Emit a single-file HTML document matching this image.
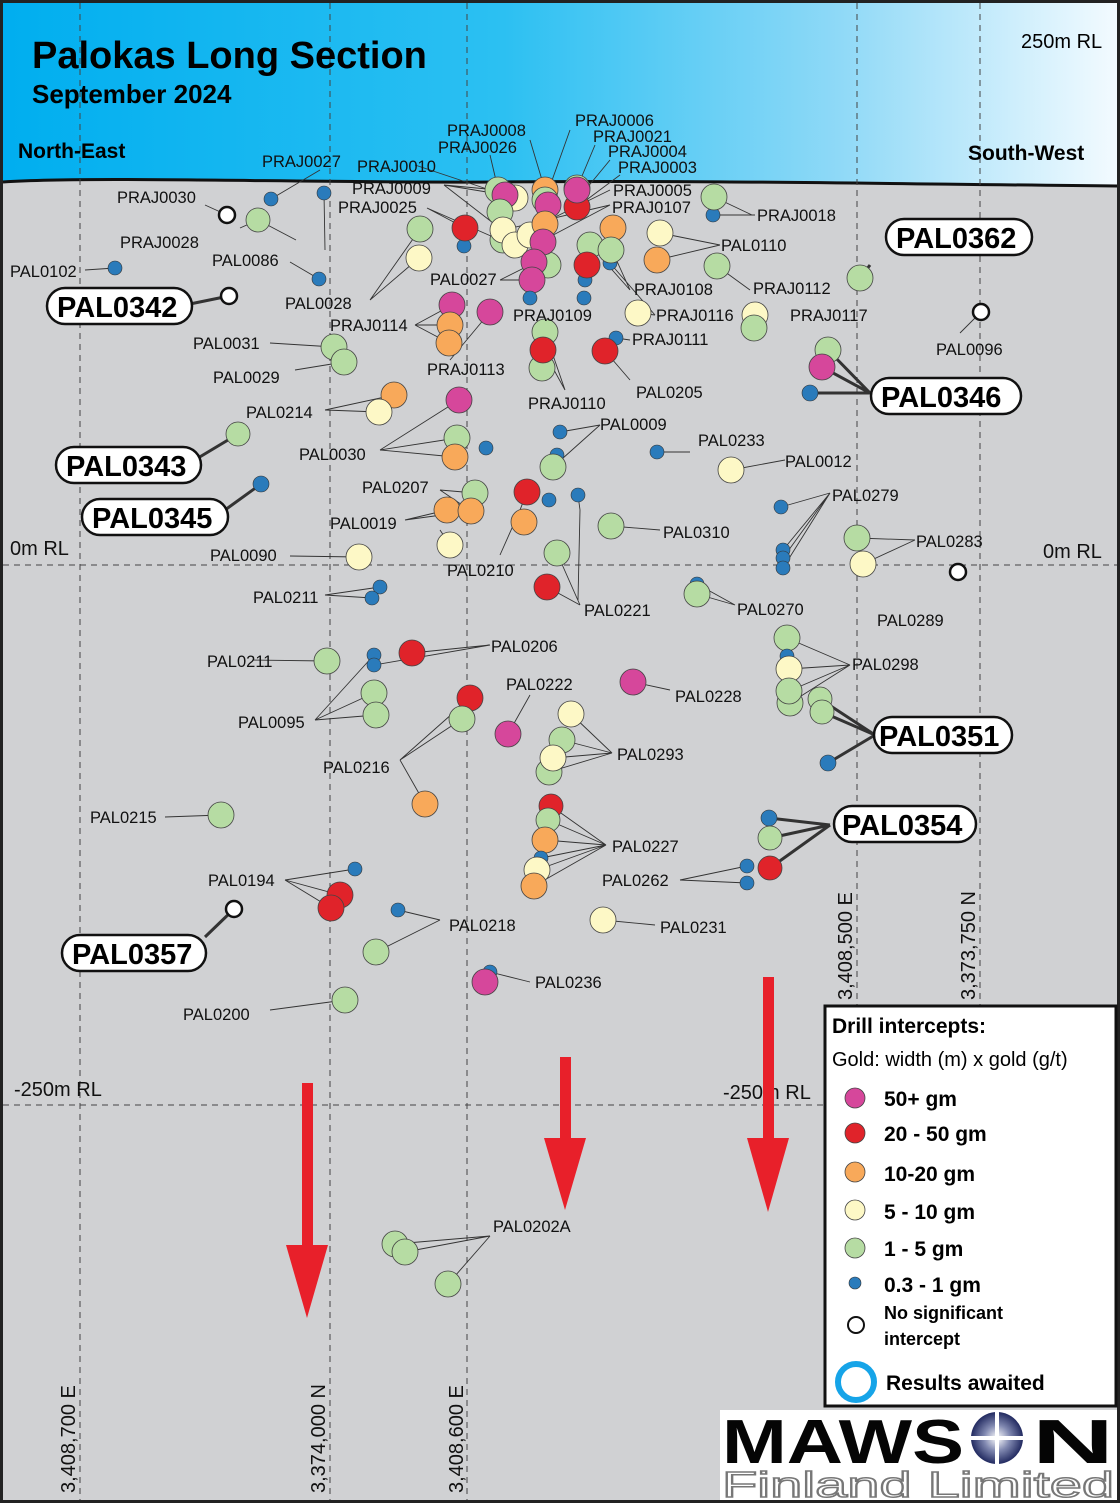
<!DOCTYPE html>
<html><head><meta charset="utf-8">
<style>
html,body{margin:0;padding:0;background:#fff}
svg{display:block}
text{font-family:"Liberation Sans",sans-serif}
.l{font-size:16.5px;fill:#111}
.ln{stroke:#333;stroke-width:0.9;fill:none}
.m{fill:#d6479b;stroke:#444;stroke-width:0.8}
.r{fill:#e0232a;stroke:#444;stroke-width:0.8}
.o{fill:#f8a95a;stroke:#444;stroke-width:0.8}
.y{fill:#fdf8c6;stroke:#444;stroke-width:0.8}
.g{fill:#b6dca3;stroke:#444;stroke-width:0.8}
.b{fill:#2a7bbb;stroke:#333;stroke-width:0.6}
.w{fill:#fff;stroke:#111;stroke-width:2.5}
.co rect{fill:#fff;stroke:#111;stroke-width:2.5}
.co text{font-size:29px;font-weight:bold}
.dash{stroke:#444;stroke-width:1;stroke-dasharray:6,5}
.ax{font-size:20px;fill:#111}
</style></head><body>
<svg width="1120" height="1503" viewBox="0 0 1120 1503" xmlns="http://www.w3.org/2000/svg">
<defs>
<linearGradient id="hg" x1="0" x2="1" y1="0" y2="0">
<stop offset="0" stop-color="#00aeef"/><stop offset="0.45" stop-color="#2cc0f2"/><stop offset="0.75" stop-color="#8fd9f7"/><stop offset="1" stop-color="#f4fbff"/></linearGradient>
<radialGradient id="lg" cx="0.5" cy="0.5" r="0.5"><stop offset="0" stop-color="#fff"/><stop offset="0.5" stop-color="#8088b0"/><stop offset="1" stop-color="#222a60"/></radialGradient>
</defs>
<rect width="1120" height="1503" fill="#d0d1d3"/>
<path d="M0 0H1120V186 C900 184 700 180 500 182 C300 183 100 176 0 182Z" fill="url(#hg)"/>
<path d="M3 182 C100 176 300 183 500 182 C700 180 900 184 1117 186" stroke="#111" stroke-width="3" fill="none"/>
<rect x="1.5" y="1.5" width="1117" height="1500" fill="none" stroke="#222" stroke-width="3"/>
<g class="dash">
<line x1="80" y1="3" x2="80" y2="1500"/><line x1="330" y1="3" x2="330" y2="1500"/>
<line x1="467" y1="3" x2="467" y2="1500"/><line x1="857" y1="3" x2="857" y2="1005"/>
<line x1="980" y1="3" x2="980" y2="1005"/>
<line x1="3" y1="565" x2="1117" y2="565"/><line x1="3" y1="1105" x2="825" y2="1105"/>
</g>
<text x="32" y="68" font-size="38" font-weight="bold">Palokas Long Section</text>
<text x="32" y="103" font-size="26" font-weight="bold">September 2024</text>
<text x="18" y="158" font-size="21" font-weight="bold">North-East</text>
<text x="968" y="160" font-size="21" font-weight="bold">South-West</text>
<text x="1021" y="48" font-size="20">250m RL</text>
<text x="10" y="555" class="ax">0m RL</text>
<text x="1043" y="558" class="ax">0m RL</text>
<text x="14" y="1096" class="ax">-250m RL</text>
<text x="723" y="1099" class="ax">-250m RL</text>
<g class="ax">
<text transform="translate(75,1493) rotate(-90)">3,408,700 E</text>
<text transform="translate(325,1493) rotate(-90)">3,374,000 N</text>
<text transform="translate(463,1493) rotate(-90)">3,408,600 E</text>
<text transform="translate(852,1000) rotate(-90)">3,408,500 E</text>
<text transform="translate(975,1000) rotate(-90)">3,373,750 N</text>
</g>
<g class="ln">
<path d="M205 205L227 215M240 228L258 220M296 240L258 220M85 270L115 268M290 262L319 279M320 170L271 199M325 250L324 193"/>
<path d="M444 185L505 195M444 185L515 240M444 185L498 190M427 208L465 228M427 208L500 240M370 300L420 229M370 300L419 258"/>
<path d="M415 165L505 195M490 155L510 240M530 140L545 190M570 130L545 200M595 145L577 188M610 160L577 200M620 175L577 207"/>
<path d="M610 190L545 222M610 205L540 242M610 205L503 230M500 280L534 263M500 280L532 280"/>
<path d="M755 215L713 215M752 215L714 197M720 245L660 233M720 245L657 260M750 290L717 266M630 290L611 248M630 290L590 245M655 315L638 313M655 315L610 263"/>
<path d="M415 325L452 305M415 325L450 325M415 325L449 343M450 360L490 312M565 390L543 350M565 390L545 332M630 340L616 338M630 380L605 351"/>
<path d="M270 343L334 347M295 370L344 362M325 410L394 395M325 410L379 412M380 450L459 400M380 450L457 438M380 450L455 457M600 425L560 432M600 425L553 467"/>
<path d="M690 452L657 452M785 460L731 470M830 493L781 507M830 493L783 550M830 493L783 558M830 493L783 568M915 540L857 538M915 540L863 564"/>
<path d="M440 490L475 493M440 490L471 511M405 520L447 510M405 520L471 511M440 530L450 545M580 510L578 495M580 510L578 600M520 510L527 492M520 510L500 555M660 530L611 526"/>
<path d="M290 556L359 557M325 595L380 587M325 595L372 598M580 605L557 553M580 605L547 587M735 605L697 584M735 605L697 594"/>
<path d="M253 660L327 661M490 645L412 653M490 645L374 665M315 720L374 655M315 720L374 693M315 720L376 715M400 760L470 698M400 760L462 719M400 760L425 804M530 695L508 734M670 690L633 682"/>
<path d="M850 665L787 638M850 665L789 669M850 665L789 691M850 665L790 703M612 753L571 714M612 753L562 740M612 753L553 758M612 753L549 772"/>
<path d="M165 817L221 815M285 880L355 869M285 880L340 895M285 880L331 908M440 920L398 910M440 920L376 952M606 845L551 806M606 845L548 820M606 845L545 840M606 845L541 858M606 845L537 870M606 845L534 886M655 925L603 920M530 982L490 972M270 1010L345 1000"/>
<path d="M680 880L747 866M680 880L747 883M490 1236L395 1244M490 1236L405 1252M490 1236L448 1284"/>
<path d="M960 333L981 312"/>
</g>
<g stroke="#333" stroke-width="3" fill="none">
<path d="M185 305L229 296M870 265L860 278M198 458L238 434M225 510L261 484M870 393L828 350M870 393L822 367M870 393L810 393M875 735L820 699M875 735L822 712M875 735L828 763M830 825L769 818M830 825L770 838M830 825L770 868M205 937L234 909"/>
</g>
<g>
<circle class="w" cx="227" cy="215" r="8"/><circle class="g" cx="258" cy="220" r="12"/><circle class="b" cx="271" cy="199" r="7"/><circle class="b" cx="324" cy="193" r="7"/>
<circle class="b" cx="115" cy="268" r="7"/><circle class="w" cx="229" cy="296" r="8"/><circle class="b" cx="319" cy="279" r="7"/>
<circle class="g" cx="420" cy="229" r="13"/><circle class="y" cx="419" cy="258" r="13"/><circle class="b" cx="464" cy="246" r="7"/><circle class="r" cx="465" cy="228" r="13"/>
<circle class="g" cx="498" cy="190" r="13"/><circle class="y" cx="515" cy="198" r="13"/><circle class="m" cx="505" cy="195" r="13"/>
<circle class="g" cx="500" cy="212" r="13"/><circle class="g" cx="503" cy="240" r="13"/><circle class="y" cx="503" cy="230" r="13"/><circle class="y" cx="515" cy="245" r="13"/><circle class="y" cx="530" cy="235" r="13"/>
<circle class="o" cx="545" cy="190" r="13"/><circle class="g" cx="545" cy="200" r="13"/><circle class="m" cx="548" cy="205" r="13"/><circle class="o" cx="545" cy="224" r="13"/>
<circle class="g" cx="577" cy="188" r="13"/><circle class="r" cx="577" cy="207" r="13"/><circle class="m" cx="577" cy="190" r="13"/>
<circle class="g" cx="548" cy="265" r="13"/><circle class="m" cx="543" cy="242" r="13"/><circle class="m" cx="534" cy="262" r="13"/><circle class="m" cx="532" cy="280" r="13"/><circle class="b" cx="530" cy="298" r="7"/>
<circle class="g" cx="590" cy="245" r="13"/><circle class="o" cx="613" cy="228" r="13"/><circle class="b" cx="610" cy="263" r="7"/><circle class="g" cx="611" cy="250" r="13"/><circle class="b" cx="585" cy="280" r="7"/><circle class="r" cx="587" cy="265" r="13"/><circle class="b" cx="584" cy="298" r="7"/>
<circle class="y" cx="638" cy="313" r="13"/><circle class="y" cx="660" cy="233" r="13"/><circle class="o" cx="657" cy="260" r="13"/><circle class="g" cx="717" cy="266" r="13"/><circle class="b" cx="713" cy="215" r="7"/><circle class="g" cx="714" cy="197" r="13"/>
<circle class="y" cx="755" cy="315" r="13"/><circle class="g" cx="754" cy="328" r="13"/>
<circle class="m" cx="452" cy="305" r="13"/><circle class="o" cx="450" cy="325" r="13"/><circle class="o" cx="449" cy="343" r="13"/><circle class="m" cx="490" cy="312" r="13"/>
<circle class="g" cx="545" cy="332" r="13"/><circle class="g" cx="542" cy="368" r="13"/><circle class="r" cx="543" cy="350" r="13"/><circle class="b" cx="616" cy="338" r="7"/><circle class="r" cx="605" cy="351" r="13"/>
<circle class="g" cx="334" cy="347" r="13"/><circle class="g" cx="344" cy="362" r="13"/>
<circle class="o" cx="394" cy="395" r="13"/><circle class="y" cx="379" cy="412" r="13"/>
<circle class="m" cx="459" cy="400" r="13"/><circle class="g" cx="457" cy="438" r="13"/><circle class="o" cx="455" cy="457" r="13"/><circle class="b" cx="486" cy="448" r="7"/>
<circle class="b" cx="560" cy="432" r="7"/><circle class="b" cx="557" cy="455" r="7"/><circle class="g" cx="553" cy="467" r="13"/><circle class="b" cx="657" cy="452" r="7"/><circle class="y" cx="731" cy="470" r="13"/>
<circle class="g" cx="475" cy="493" r="13"/><circle class="o" cx="447" cy="510" r="13"/><circle class="o" cx="471" cy="511" r="13"/><circle class="y" cx="450" cy="545" r="13"/>
<circle class="r" cx="527" cy="492" r="13"/><circle class="b" cx="549" cy="500" r="7"/><circle class="b" cx="578" cy="495" r="7"/><circle class="o" cx="524" cy="522" r="13"/><circle class="g" cx="611" cy="526" r="13"/>
<circle class="b" cx="781" cy="507" r="7"/><circle class="b" cx="783" cy="550" r="7"/><circle class="b" cx="783" cy="558" r="7"/><circle class="b" cx="783" cy="568" r="7"/>
<circle class="g" cx="857" cy="538" r="13"/><circle class="y" cx="863" cy="564" r="13"/><circle class="w" cx="958" cy="572" r="8"/>
<circle class="g" cx="860" cy="278" r="13" stroke="#111" stroke-width="2"/><circle class="w" cx="981" cy="312" r="8"/>
<circle class="g" cx="828" cy="350" r="13" stroke="#111" stroke-width="2"/><circle class="m" cx="822" cy="367" r="13" stroke="#111" stroke-width="2"/><circle class="b" cx="810" cy="393" r="8" stroke="#111" stroke-width="2"/>
<circle class="g" cx="238" cy="434" r="12" stroke="#111" stroke-width="2"/><circle class="b" cx="261" cy="484" r="8" stroke="#111" stroke-width="2"/>
<circle class="y" cx="359" cy="557" r="13"/><circle class="b" cx="380" cy="587" r="7"/><circle class="b" cx="372" cy="598" r="7"/>
<circle class="g" cx="557" cy="553" r="13"/><circle class="r" cx="547" cy="587" r="13"/><circle class="b" cx="697" cy="584" r="7"/><circle class="g" cx="697" cy="594" r="13"/>
<circle class="g" cx="327" cy="661" r="13"/><circle class="b" cx="374" cy="655" r="7"/><circle class="b" cx="374" cy="665" r="7"/><circle class="r" cx="412" cy="653" r="13"/>
<circle class="g" cx="374" cy="693" r="13"/><circle class="g" cx="376" cy="715" r="13"/><circle class="r" cx="470" cy="698" r="13"/><circle class="g" cx="462" cy="719" r="13"/>
<circle class="m" cx="508" cy="734" r="13"/><circle class="m" cx="633" cy="682" r="13"/>
<circle class="y" cx="571" cy="714" r="13"/><circle class="g" cx="562" cy="740" r="13"/><circle class="g" cx="549" cy="772" r="13"/><circle class="y" cx="553" cy="758" r="13"/><circle class="o" cx="425" cy="804" r="13"/>
<circle class="g" cx="787" cy="638" r="13"/><circle class="b" cx="787" cy="656" r="7"/><circle class="y" cx="789" cy="669" r="13"/><circle class="g" cx="790" cy="703" r="13"/><circle class="g" cx="789" cy="691" r="13"/>
<circle class="g" cx="820" cy="699" r="12" stroke="#111" stroke-width="2.5"/><circle class="g" cx="822" cy="712" r="12" stroke="#111" stroke-width="2.5"/><circle class="b" cx="828" cy="763" r="8" stroke="#111" stroke-width="2"/>
<circle class="g" cx="221" cy="815" r="13"/>
<circle class="r" cx="551" cy="806" r="12"/><circle class="g" cx="548" cy="820" r="12"/><circle class="o" cx="545" cy="840" r="13"/><circle class="b" cx="541" cy="858" r="7"/><circle class="y" cx="537" cy="870" r="13"/><circle class="o" cx="534" cy="886" r="13"/>
<circle class="b" cx="769" cy="818" r="8" stroke="#111" stroke-width="2"/><circle class="g" cx="770" cy="838" r="12" stroke="#111" stroke-width="2"/><circle class="r" cx="770" cy="868" r="12" stroke="#111" stroke-width="2"/>
<circle class="b" cx="747" cy="866" r="7"/><circle class="b" cx="747" cy="883" r="7"/>
<circle class="b" cx="355" cy="869" r="7"/><circle class="r" cx="340" cy="895" r="13"/><circle class="r" cx="331" cy="908" r="13"/><circle class="w" cx="234" cy="909" r="8"/>
<circle class="b" cx="398" cy="910" r="7"/><circle class="g" cx="376" cy="952" r="13"/><circle class="y" cx="603" cy="920" r="13"/>
<circle class="b" cx="490" cy="972" r="7"/><circle class="m" cx="485" cy="982" r="13"/><circle class="g" cx="345" cy="1000" r="13"/>
<circle class="g" cx="395" cy="1244" r="13"/><circle class="g" cx="405" cy="1252" r="13"/><circle class="g" cx="448" cy="1284" r="13"/>
</g>
<g class="l">
<text x="117" y="203">PRAJ0030</text><text x="262" y="167">PRAJ0027</text><text x="357" y="172">PRAJ0010</text>
<text x="120" y="248">PRAJ0028</text><text x="10" y="277">PAL0102</text><text x="212" y="266">PAL0086</text><text x="285" y="309">PAL0028</text>
<text x="352" y="194">PRAJ0009</text><text x="338" y="213">PRAJ0025</text><text x="447" y="136">PRAJ0008</text><text x="438" y="153">PRAJ0026</text>
<text x="575" y="126">PRAJ0006</text><text x="593" y="142">PRAJ0021</text><text x="608" y="157">PRAJ0004</text><text x="618" y="173">PRAJ0003</text>
<text x="613" y="196">PRAJ0005</text><text x="612" y="213">PRAJ0107</text><text x="757" y="221">PRAJ0018</text><text x="721" y="251">PAL0110</text>
<text x="430" y="285">PAL0027</text><text x="634" y="295">PRAJ0108</text><text x="753" y="294">PRAJ0112</text>
<text x="330" y="331">PRAJ0114</text><text x="513" y="321">PRAJ0109</text><text x="656" y="321">PRAJ0116</text><text x="790" y="321">PRAJ0117</text>
<text x="632" y="345">PRAJ0111</text><text x="193" y="349">PAL0031</text><text x="213" y="383">PAL0029</text><text x="427" y="375">PRAJ0113</text>
<text x="636" y="398">PAL0205</text><text x="528" y="409">PRAJ0110</text><text x="936" y="355">PAL0096</text>
<text x="246" y="418">PAL0214</text><text x="600" y="430">PAL0009</text><text x="698" y="446">PAL0233</text><text x="785" y="467">PAL0012</text>
<text x="299" y="460">PAL0030</text><text x="362" y="493">PAL0207</text><text x="832" y="501">PAL0279</text>
<text x="330" y="529">PAL0019</text><text x="663" y="538">PAL0310</text><text x="916" y="547">PAL0283</text>
<text x="210" y="561">PAL0090</text><text x="447" y="576">PAL0210</text><text x="253" y="603">PAL0211</text><text x="584" y="616">PAL0221</text>
<text x="737" y="615">PAL0270</text><text x="877" y="626">PAL0289</text>
<text x="207" y="667">PAL0211</text><text x="491" y="652">PAL0206</text><text x="852" y="670">PAL0298</text>
<text x="506" y="690">PAL0222</text><text x="675" y="702">PAL0228</text><text x="238" y="728">PAL0095</text>
<text x="617" y="760">PAL0293</text><text x="323" y="773">PAL0216</text><text x="90" y="823">PAL0215</text>
<text x="612" y="852">PAL0227</text><text x="602" y="886">PAL0262</text><text x="208" y="886">PAL0194</text>
<text x="449" y="931">PAL0218</text><text x="660" y="933">PAL0231</text><text x="535" y="988">PAL0236</text>
<text x="183" y="1020">PAL0200</text><text x="493" y="1232">PAL0202A</text>
</g>
<g class="co">
<rect x="47" y="288" width="145" height="36" rx="18"/><text x="57" y="317">PAL0342</text>
<rect x="886" y="219" width="146" height="36" rx="18"/><text x="896" y="248">PAL0362</text>
<rect x="871" y="378" width="150" height="36" rx="18"/><text x="881" y="407">PAL0346</text>
<rect x="56" y="447" width="145" height="36" rx="18"/><text x="66" y="476">PAL0343</text>
<rect x="82" y="499" width="146" height="36" rx="18"/><text x="92" y="528">PAL0345</text>
<rect x="874" y="717" width="138" height="36" rx="18"/><text x="879" y="746">PAL0351</text>
<rect x="834" y="806" width="142" height="36" rx="18"/><text x="842" y="835">PAL0354</text>
<rect x="62" y="935" width="144" height="36" rx="18"/><text x="72" y="964">PAL0357</text>
</g>
<g fill="#e8202a">
<rect x="302" y="1083" width="11" height="175"/><path d="M286 1245H328L307 1318Z"/>
<rect x="560" y="1057" width="11" height="88"/><path d="M544 1138H586L565 1210Z"/>
<rect x="763" y="977" width="11" height="168"/><path d="M747 1138H789L768 1212Z"/>
</g>
<rect x="825" y="1006" width="291" height="400" fill="#fff" stroke="#111" stroke-width="3"/>
<text x="832" y="1033" font-size="21" font-weight="bold">Drill intercepts:</text>
<text x="832" y="1066" font-size="20">Gold: width (m) x gold (g/t)</text>
<g font-size="21" font-weight="bold">
<circle class="m" cx="855" cy="1098" r="10"/><text x="884" y="1106">50+ gm</text>
<circle class="r" cx="855" cy="1133" r="10"/><text x="884" y="1141">20 - 50 gm</text>
<circle class="o" cx="855" cy="1172" r="10"/><text x="884" y="1181">10-20 gm</text>
<circle class="y" cx="855" cy="1210" r="10"/><text x="884" y="1219">5 - 10 gm</text>
<circle class="g" cx="855" cy="1248" r="10"/><text x="884" y="1256">1 - 5 gm</text>
<circle class="b" cx="855" cy="1283" r="6"/><text x="884" y="1292">0.3 - 1 gm</text>
</g>
<circle cx="856" cy="1325" r="8" fill="#fff" stroke="#111" stroke-width="2"/>
<text x="884" y="1319" font-size="18" font-weight="bold">No significant</text>
<text x="884" y="1345" font-size="18" font-weight="bold">intercept</text>
<circle cx="856" cy="1382" r="18" fill="#fff" stroke="#16a4e8" stroke-width="6"/>
<text x="886" y="1390" font-size="21" font-weight="bold">Results awaited</text>
<rect x="720" y="1410" width="397" height="90" fill="#fff"/>
<text x="722" y="1463" font-size="62" font-weight="bold" textLength="242" lengthAdjust="spacingAndGlyphs" fill="#050505">MAWS</text>
<text x="1032" y="1463" font-size="62" font-weight="bold" textLength="82" lengthAdjust="spacingAndGlyphs" fill="#050505">N</text>
<circle cx="997" cy="1438" r="26" fill="url(#lg)"/>
<path d="M997 1410V1466M969 1438H1025" stroke="#fff" stroke-width="4"/>
<text x="722" y="1497" font-size="36" fill="none" stroke="#777" stroke-width="1.5" textLength="392" lengthAdjust="spacingAndGlyphs">Finland Limited</text>
</svg>
</body></html>
